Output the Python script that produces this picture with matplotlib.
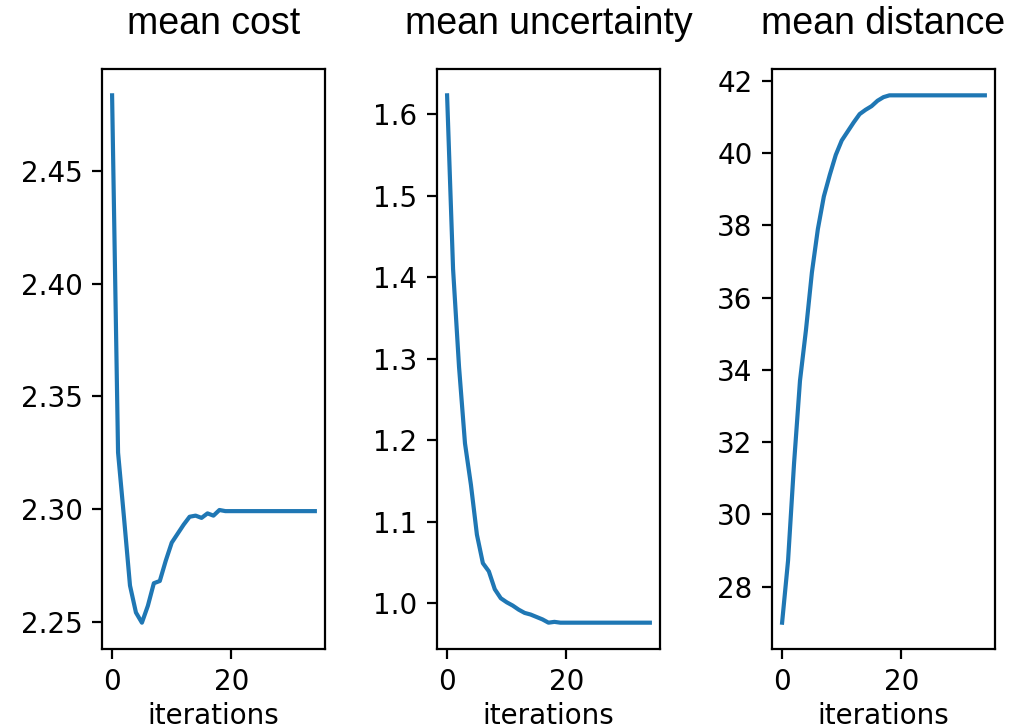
import numpy as np
import matplotlib.pyplot as plt

# values, one per iteration (0..34)
iterations = np.arange(35)

mean_cost = [2.4835, 2.325, 2.296, 2.266, 2.254, 2.2495, 2.257, 2.267, 2.268,
             2.277, 2.285, 2.289, 2.293, 2.2965, 2.297, 2.296, 2.298, 2.297,
             2.2995] + [2.299] * 16

mean_uncertainty = [1.623, 1.41, 1.29, 1.196, 1.145, 1.084, 1.049, 1.039, 1.017,
                    1.006, 1.001, 0.997, 0.992, 0.988, 0.986, 0.983, 0.980,
                    0.976, 0.977] + [0.976] * 16

mean_distance = [27.0, 28.72, 31.4, 33.7, 35.1, 36.7, 37.9, 38.8, 39.4, 39.95,
                 40.35, 40.6, 40.85, 41.08, 41.2, 41.3, 41.45, 41.55,
                 41.6] + [41.6] * 16

titles = ["mean cost", "mean uncertainty", "mean distance"]
series = [mean_cost, mean_uncertainty, mean_distance]

fig = plt.figure(figsize=(5.165, 3.63), dpi=200)
lefts = [0.0987, 0.423, 0.7473]
for left, title, values in zip(lefts, titles, series):
    ax = fig.add_axes([left, 0.106, 0.2159, 0.799])
    ax.plot(iterations, values)
    ax.set_title(title, fontsize=13.5, family="Liberation Sans", pad=12.5)
    ax.set_xlabel("iterations", labelpad=2)

fig.savefig("out.png", dpi=200)
